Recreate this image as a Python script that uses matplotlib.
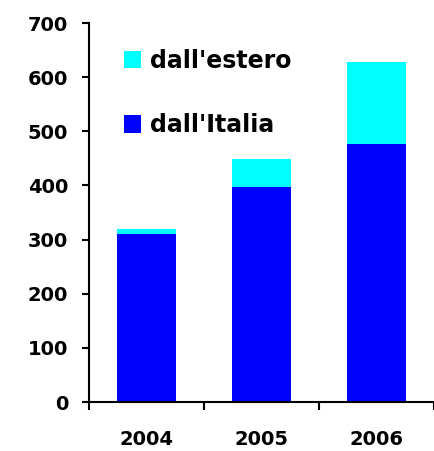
import numpy as np
import matplotlib
matplotlib.use("Agg")
from matplotlib import pyplot as plt

years = ['2004', '2005', '2006']
italia = [310, 397, 477]
estero = [9, 52, 151]

plt.rcParams['font.family'] = ['DejaVu Sans']
plt.rcParams['font.weight'] = 'bold'

fig = plt.figure(figsize=(4.34, 4.51), dpi=100)
ax = fig.add_axes([0.205, 0.1086, 0.795, 0.8404])

x = np.arange(len(years))
b1 = ax.bar(x, italia, width=0.52, color='#0000FF', label="dall'Italia")
b2 = ax.bar(x, estero, width=0.52, bottom=italia, color='#00FFFF', label="dall'estero")

ax.set_xlim(-0.5, 2.5)
ax.set_ylim(0, 700)
ax.set_yticks(range(0, 701, 100))
ax.set_xticks(x)
ax.set_xticklabels(years)
ax.set_xticks([-0.5, 0.5, 1.5, 2.5], minor=True)

ax.spines['top'].set_visible(False)
ax.spines['right'].set_visible(False)
ax.spines['left'].set_linewidth(1.5)
ax.spines['bottom'].set_linewidth(1.5)

ax.tick_params(axis='y', direction='out', length=5, width=1.5, labelsize=14, pad=10)
ax.tick_params(axis='x', which='major', length=0, labelsize=14, pad=20)
ax.tick_params(axis='x', which='minor', direction='out', length=6, width=1.5)

ax.legend([b2, b1], ["dall'estero", "dall'Italia"], frameon=False,
          loc='upper left', bbox_to_anchor=(0.066, 0.963), borderpad=0,
          handlelength=0.76, handleheight=0.76, handletextpad=0.34,
          labelspacing=1.72, fontsize=17)

fig.savefig('out.png', dpi=100)
